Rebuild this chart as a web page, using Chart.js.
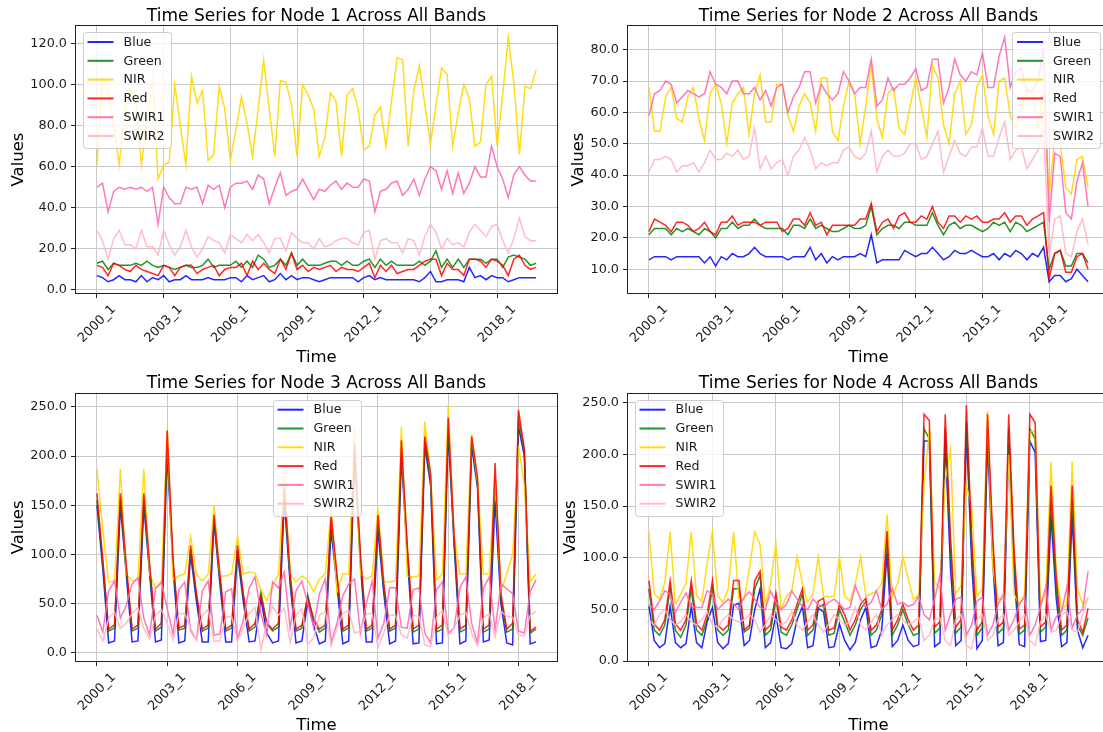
<!DOCTYPE html>
<html>
<head>
<meta charset="utf-8">
<title>Time Series per Node</title>
<script src="https://cdn.jsdelivr.net/npm/chart.js@4.4.1/dist/chart.umd.min.js"></script>
<style>
  html, body { margin: 0; padding: 0; background: #fff; overflow: hidden; }
  #fig { position: relative; width: 1103px; height: 732px; overflow: hidden; background: #fff; }
  #fig canvas { position: absolute; }
</style>
</head>
<body>
<div id="fig">
  <canvas id="node1"></canvas>
  <canvas id="node2"></canvas>
  <canvas id="node3"></canvas>
  <canvas id="node4"></canvas>
</div>
<script>
"use strict";

const BANDS = ["Blue", "Green", "NIR", "Red", "SWIR1", "SWIR2"];

// tick values per panel
const yTicksNode1 = [0, 20, 40, 60, 80, 100, 120];
const yTicksNode2 = [10, 20, 30, 40, 50, 60, 70, 80];
const yTicksNode3 = [0, 50, 100, 150, 200, 250];
const yTicksNode4 = [0, 50, 100, 150, 200, 250];
const xTickIndex = [0, 12, 24, 36, 48, 60, 72];

// ---- Node 1 (2000_1 .. 2019_4) ----
const node1Blue = [
  7, 6, 4, 5, 7, 5, 5, 4, 7, 4,
  6, 5, 7, 4, 5, 5, 7, 5, 5, 5,
  6, 5, 5, 5, 6, 6, 4, 7, 5, 6,
  7, 4, 5, 8, 5, 7, 5, 6, 6, 5,
  4, 5, 6, 6, 6, 6, 6, 4, 6, 7,
  5, 6, 5, 5, 5, 5, 5, 5, 4, 6,
  9, 4, 4, 5, 5, 5, 4, 11, 6, 7,
  5, 7, 6, 6, 4, 5, 6, 6, 6, 6,
];
const node1Green = [
  13, 14, 10, 13, 12, 12, 12, 13, 12, 14,
  12, 11, 12, 11, 10, 11, 12, 11, 11, 12,
  15, 11, 12, 12, 12, 14, 11, 14, 11, 17,
  15, 11, 12, 15, 12, 18, 12, 15, 12, 12,
  12, 13, 14, 14, 12, 14, 12, 12, 14, 15,
  11, 15, 12, 14, 12, 12, 12, 12, 14, 12,
  14, 19, 11, 15, 11, 15, 11, 15, 15, 15,
  13, 15, 15, 11, 16, 17, 16, 15, 12, 13,
];
const node1NIR = [
  61, 103, 97, 80, 61, 88, 98, 92, 61, 83,
  105, 54, 61, 62, 100, 80, 61, 104, 91, 97,
  63, 66, 99, 88, 63, 78, 94, 81, 65, 88,
  112, 88, 65, 102, 101, 90, 65, 100, 95, 88,
  65, 74, 96, 92, 65, 95, 98, 88, 68, 70,
  85, 89, 70, 92, 113, 112, 70, 97, 109, 90,
  71, 90, 108, 105, 70, 86, 100, 93, 70, 72,
  100, 104, 70, 95, 123, 101, 66, 99, 98, 107,
];
const node1Red = [
  12, 11, 7, 13, 12, 10, 9, 12, 10, 9,
  8, 7, 12, 11, 7, 11, 12, 12, 8, 10,
  11, 12, 7, 10, 11, 11, 13, 7, 14, 10,
  13, 10, 8, 15, 10, 18, 10, 12, 9, 11,
  10, 11, 12, 9, 11, 10, 10, 9, 11, 13,
  6, 12, 9, 12, 8, 9, 10, 10, 12, 14,
  15, 15, 7, 13, 10, 10, 7, 15, 15, 14,
  11, 15, 14, 12, 7, 15, 17, 12, 10, 11,
];
const node1SWIR1 = [
  50, 52, 38, 48, 50, 49, 50, 49, 50, 48,
  50, 32, 50, 45, 42, 42, 50, 49, 50, 42,
  51, 49, 51, 40, 50, 52, 52, 53, 49, 56,
  54, 42, 50, 57, 46, 48, 49, 54, 49, 44,
  49, 48, 51, 53, 49, 52, 50, 50, 54, 53,
  38, 48, 49, 52, 53, 46, 49, 54, 46, 54,
  60, 58, 49, 58, 47, 57, 47, 52, 60, 55,
  55, 70, 60, 54, 45, 56, 60, 56, 53, 53,
];
const node1SWIR2 = [
  29, 24, 15, 25, 29, 22, 22, 20, 29, 21,
  21, 17, 29, 22, 17, 21, 29, 21, 16, 20,
  26, 24, 23, 18, 27, 25, 23, 27, 24, 27,
  23, 18, 25, 25, 19, 28, 25, 23, 23, 20,
  25, 21, 22, 24, 25, 25, 23, 22, 28, 29,
  15, 24, 25, 23, 23, 18, 25, 24, 17, 26,
  32, 28, 20, 25, 22, 23, 21, 28, 32, 29,
  26, 31, 32, 24, 18, 25, 35, 26, 24, 24,
];

// ---- Node 2 (2000_1 .. 2019_4) ----
const node2Blue = [
  13, 14, 14, 14, 13, 14, 14, 14, 14, 14,
  12, 14, 11, 14, 13, 15, 14, 14, 15, 17,
  15, 14, 14, 14, 14, 13, 14, 14, 14, 17,
  13, 15, 12, 14, 13, 14, 14, 14, 15, 14,
  21, 12, 13, 13, 13, 13, 16, 15, 14, 15,
  15, 17, 15, 13, 14, 16, 15, 15, 16, 15,
  14, 14, 15, 13, 15, 14, 16, 15, 13, 15,
  14, 17, 6, 8, 8, 6, 7, 10, 8, 6,
];
const node2Green = [
  21, 23, 23, 23, 21, 23, 22, 23, 22, 21,
  23, 22, 20, 23, 23, 25, 23, 24, 24, 26,
  24, 23, 23, 23, 23, 21, 24, 24, 23, 26,
  23, 24, 23, 22, 22, 23, 24, 23, 23, 24,
  30, 21, 23, 24, 24, 23, 25, 25, 24, 24,
  24, 28, 24, 21, 24, 25, 23, 24, 24, 23,
  22, 23, 25, 24, 25, 22, 25, 24, 22, 23,
  24, 25, 10, 15, 16, 11, 11, 15, 15, 12,
];
const node2NIR = [
  68, 54, 54, 65, 68, 58, 57, 65, 68, 58,
  51, 66, 69, 63, 50, 63, 66, 68, 53, 66,
  72, 57, 57, 69, 69, 59, 54, 62, 66, 63,
  54, 71, 71, 54, 51, 62, 70, 66, 50, 62,
  75, 58, 52, 66, 68, 55, 53, 62, 71, 62,
  52, 75, 71, 56, 50, 66, 70, 53, 56, 68,
  72, 59, 53, 70, 71, 59, 55, 62, 67, 66,
  55, 67, 33, 52, 50, 36, 34, 45, 46, 36,
];
const node2Red = [
  22, 26, 25, 24, 22, 25, 25, 24, 22, 23,
  25, 22, 21, 25, 25, 27, 24, 25, 25, 25,
  24, 25, 25, 25, 22, 23, 26, 26, 24, 28,
  24, 25, 21, 24, 24, 24, 24, 24, 26, 26,
  31, 22, 25, 26, 23, 27, 28, 25, 25, 27,
  26, 30, 25, 23, 27, 27, 25, 27, 26, 27,
  25, 25, 26, 26, 28, 25, 27, 27, 24, 26,
  27, 28, 7, 15, 16, 9, 9, 14, 15, 10,
];
const node2SWIR1 = [
  59, 66, 67, 70, 69, 63, 65, 67, 66, 65,
  66, 73, 69, 68, 66, 70, 70, 66, 66, 68,
  64, 67, 62, 68, 69, 60, 65, 68, 73, 73,
  63, 69, 66, 64, 66, 73, 70, 66, 68, 68,
  77, 62, 64, 71, 67, 69, 69, 71, 74, 67,
  68, 77, 77, 63, 68, 77, 72, 70, 73, 72,
  79, 68, 68, 78, 84, 68, 73, 74, 67, 67,
  70, 81, 25, 47, 46, 28, 26, 38, 44, 30,
];
const node2SWIR2 = [
  41, 45, 45, 46, 45, 41, 43, 43, 44, 41,
  44, 48, 45, 45, 47, 46, 48, 45, 46, 55,
  42, 46, 42, 44, 45, 40, 46, 48, 52, 48,
  42, 44, 43, 44, 44, 48, 49, 46, 45, 47,
  54, 41, 46, 48, 46, 46, 47, 50, 50, 45,
  46, 50, 54, 41, 46, 51, 47, 46, 49, 49,
  55, 46, 46, 52, 57, 45, 48, 49, 42, 45,
  48, 56, 14, 26, 27, 15, 14, 22, 26, 18,
];

// ---- Node 3 (2000_1 .. 2018_4), one row per year ----
const node3Blue = [
  150, 85, 10, 12,  150, 80, 11, 12,  150, 80, 11, 13,  205, 85, 10, 12,
  100, 52, 11, 11,  133, 70, 11, 11,  100, 52, 11, 12,  55, 20, 10, 12,
  155, 70, 10, 12,  52, 28, 9, 12,  125, 68, 9, 12,  200, 90, 11, 11,
  125, 60, 9, 12,  199, 100, 9, 10,  210, 170, 9, 10,  225, 110, 9, 12,
  210, 168, 11, 13,  155, 50, 10, 8,  230, 200, 9, 11,
];
const node3Green = [
  155, 90, 22, 25,  157, 85, 22, 25,  155, 85, 22, 26,  210, 90, 23, 25,
  105, 57, 22, 25,  136, 75, 22, 25,  105, 57, 22, 26,  62, 30, 22, 26,
  160, 75, 22, 25,  59, 33, 21, 25,  135, 75, 22, 25,  205, 95, 22, 25,
  133, 65, 22, 25,  207, 105, 21, 24,  215, 175, 21, 24,  232, 115, 21, 24,
  215, 172, 21, 24,  180, 55, 21, 24,  238, 205, 20, 24,
];
const node3NIR = [
  187, 125, 72, 73,  187, 80, 73, 75,  187, 80, 66, 70,  228, 74, 78, 80,
  118, 80, 73, 80,  150, 78, 78, 80,  118, 80, 82, 81,  64, 53, 68, 80,
  182, 80, 72, 78,  74, 62, 75, 80,  147, 62, 80, 80,  229, 80, 75, 78,
  147, 72, 72, 73,  230, 78, 77, 78,  235, 180, 74, 80,  252, 120, 80, 80,
  222, 175, 80, 80,  182, 62, 80, 100,  211, 170, 72, 80,
];
const node3Red = [
  162, 95, 24, 28,  162, 90, 24, 28,  162, 90, 24, 30,  226, 95, 25, 28,
  109, 60, 24, 28,  140, 80, 24, 28,  109, 60, 24, 30,  57, 30, 24, 30,
  168, 80, 24, 28,  55, 35, 24, 28,  140, 80, 24, 28,  212, 100, 24, 28,
  140, 70, 24, 28,  216, 110, 24, 28,  220, 182, 24, 28,  239, 120, 24, 28,
  220, 179, 24, 28,  193, 60, 24, 30,  247, 207, 22, 26,
];
const node3SWIR1 = [
  38, 21, 63, 73,  35, 48, 70, 76,  35, 18, 65, 72,  45, 19, 64, 72,
  22, 13, 63, 73,  18, 19, 62, 65,  14, 33, 66, 77,  40, 18, 72, 66,
  82, 25, 63, 73,  50, 26, 60, 75,  10, 30, 58, 70,  75, 20, 50, 73,
  15, 30, 66, 66,  26, 25, 64, 66,  20, 10, 64, 72,  20, 25, 66, 77,
  30, 10, 65, 77,  23, 70, 65, 60,  22, 20, 62, 74,
];
const node3SWIR2 = [
  24, 12, 35, 41,  25, 30, 40, 46,  25, 14, 38, 44,  30, 13, 40, 40,
  25, 13, 38, 44,  12, 12, 36, 37,  12, 25, 40, 46,  3, 30, 47, 38,
  45, 10, 38, 45,  8, 15, 38, 42,  7, 25, 40, 43,  20, 22, 39, 40,
  5, 20, 38, 38,  18, 15, 38, 37,  8, 6, 36, 43,  17, 25, 38, 41,
  20, 7, 35, 40,  16, 42, 37, 36,  18, 17, 38, 42,
];

// ---- Node 4 (2000_1 .. 2020_4), one row per year ----
const node4Blue = [
  53, 20, 13, 17,  53, 18, 13, 17,  53, 18, 13, 38,  52, 18, 12, 17,
  54, 56, 15, 20,  50, 70, 13, 18,  45, 13, 12, 17,  40, 53, 13, 15,
  51, 48, 13, 14,  36, 20, 11, 18,  40, 52, 13, 15,  30, 105, 14, 20,
  35, 20, 14, 16,  213, 213, 14, 18,  215, 90, 15, 20,  225, 95, 12, 20,
  212, 95, 15, 18,  210, 85, 16, 14,  213, 202, 19, 20,  140, 60, 14, 18,
  140, 30, 13, 25,
];
const node4Green = [
  70, 30, 25, 35,  70, 30, 23, 35,  70, 30, 25, 40,  70, 30, 25, 30,
  70, 70, 28, 32,  70, 83, 25, 30,  60, 28, 25, 35,  50, 65, 25, 30,
  52, 55, 25, 27,  50, 38, 25, 35,  50, 58, 25, 30,  45, 118, 25, 35,
  50, 35, 25, 27,  225, 215, 27, 32,  225, 110, 27, 33,  232, 110, 25, 32,
  225, 110, 27, 32,  225, 100, 26, 30,  225, 215, 28, 33,  155, 70, 25, 30,
  155, 35, 25, 42,
];
const node4NIR = [
  125, 65, 60, 76,  125, 55, 65, 75,  125, 63, 58, 95,  125, 63, 57, 70,
  125, 60, 60, 90,  125, 113, 55, 75,  113, 50, 63, 68,  101, 75, 57, 65,
  101, 63, 62, 63,  101, 63, 58, 75,  101, 63, 65, 68,  75, 142, 62, 75,
  101, 80, 60, 64,  170, 225, 77, 70,  175, 205, 65, 73,  170, 150, 63, 70,
  242, 90, 60, 60,  200, 65, 55, 65,  222, 223, 55, 65,  193, 85, 50, 55,
  193, 70, 55, 60,
];
const node4Red = [
  78, 36, 30, 40,  78, 36, 30, 40,  78, 36, 30, 45,  78, 35, 30, 35,
  78, 78, 30, 35,  78, 87, 30, 35,  66, 33, 30, 40,  55, 70, 30, 35,
  58, 61, 30, 32,  55, 45, 30, 40,  55, 61, 30, 35,  50, 126, 30, 40,
  55, 40, 30, 35,  239, 233, 33, 38,  239, 120, 33, 40,  248, 120, 30, 38,
  239, 120, 33, 38,  239, 110, 31, 35,  239, 231, 33, 38,  170, 80, 30, 35,
  170, 40, 28, 51,
];
const node4SWIR1 = [
  55, 50, 58, 68,  65, 47, 57, 66,  53, 52, 52, 68,  65, 50, 55, 60,
  55, 50, 62, 67,  60, 52, 50, 68,  57, 50, 55, 68,  60, 53, 50, 60,
  55, 52, 57, 60,  55, 50, 52, 73,  60, 52, 57, 68,  50, 55, 70, 55,
  57, 53, 55, 63,  45, 40, 60, 83,  30, 45, 60, 62,  25, 35, 58, 62,
  25, 35, 55, 65,  30, 40, 55, 62,  25, 35, 52, 72,  30, 43, 48, 72,
  32, 45, 50, 87,
];
const node4SWIR2 = [
  40, 35, 45, 50,  40, 35, 38, 45,  38, 35, 40, 48,  35, 33, 40, 45,
  40, 38, 40, 45,  40, 28, 35, 45,  40, 35, 38, 48,  35, 30, 38, 45,
  35, 28, 36, 45,  40, 35, 38, 52,  35, 30, 38, 45,  25, 35, 40, 45,
  40, 35, 38, 42,  20, 25, 40, 42,  20, 15, 40, 45,  15, 12, 40, 45,
  20, 25, 40, 45,  25, 30, 38, 45,  20, 15, 38, 45,  28, 30, 45, 48,
  30, 28, 45, 62,
];

const BAND_COLORS = {
  Blue: "rgba(0, 0, 255, 0.85)",
  Green: "rgba(0, 128, 0, 0.85)",
  NIR: "rgba(255, 215, 0, 0.9)",
  Red: "rgba(255, 0, 0, 0.85)",
  SWIR1: "rgba(255, 105, 180, 0.9)",
  SWIR2: "rgba(255, 182, 193, 0.9)",
};

const FONT = '"DejaVu Sans", "Liberation Sans", sans-serif';
const TICK_PX = 12.8;
const LEGEND_PX = 12.6;
const TITLE_PX = 17;
const LABEL_PX = 16.5;
const GRID = "#c9c9c9";
const INK = "#1a1a1a";

const PANELS = [
  {
    canvas: "node1", title: "Time Series for Node 1 Across All Bands",
    x: 0, y: 0, w: 562, h: 366,
    area: { left: 75, top: 25, right: 558, bottom: 294 },
    yTicks: yTicksNode1, legend: "upper left",
    series: [node1Blue, node1Green, node1NIR, node1Red, node1SWIR1, node1SWIR2],
  },
  {
    canvas: "node2", title: "Time Series for Node 2 Across All Bands",
    x: 560, y: 0, w: 556, h: 366,
    area: { left: 67, top: 25, right: 550, bottom: 294 },
    yTicks: yTicksNode2, legend: "upper right",
    series: [node2Blue, node2Green, node2NIR, node2Red, node2SWIR1, node2SWIR2],
  },
  {
    canvas: "node3", title: "Time Series for Node 3 Across All Bands",
    x: 0, y: 366, w: 562, h: 366,
    area: { left: 75, top: 26.7, right: 558, bottom: 296 },
    yTicks: yTicksNode3, legend: "upper center",
    series: [node3Blue, node3Green, node3NIR, node3Red, node3SWIR1, node3SWIR2],
  },
  {
    canvas: "node4", title: "Time Series for Node 4 Across All Bands",
    x: 560, y: 366, w: 556, h: 366,
    area: { left: 67, top: 26.7, right: 550, bottom: 296 },
    yTicks: yTicksNode4, legend: "upper left",
    series: [node4Blue, node4Green, node4NIR, node4Red, node4SWIR1, node4SWIR2],
  },
];

function quarterLabels(startYear, count) {
  const out = [];
  for (let i = 0; i < count; i++) {
    out.push(`${startYear + Math.floor(i / 4)}_${(i % 4) + 1}`);
  }
  return out;
}

// frame, title, axis labels, rotated x tick labels and the in-axes legend
const axesDecor = {
  id: "axesDecor",
  afterDraw(chart, args, opts) {
    const { ctx, chartArea: a, scales } = chart;
    ctx.save();

    ctx.strokeStyle = "#222";
    ctx.lineWidth = 1;
    const l = Math.round(a.left) + 0.5, t = Math.round(a.top) + 0.5;
    const r = Math.round(a.right) - 0.5, b = Math.round(a.bottom) - 0.5;
    ctx.strokeRect(l, t, r - l, b - t);

    // x tick labels, rotated 45deg, box centred under each tick
    ctx.font = `${TICK_PX}px ${FONT}`;
    ctx.fillStyle = INK;
    ctx.textAlign = "center";
    ctx.textBaseline = "middle";
    let boxH = 0;
    for (const tick of scales.x.ticks) {
      const text = opts.labels[tick.value];
      const w = ctx.measureText(text).width;
      const box = (w + TICK_PX * 1.17) * Math.SQRT1_2;
      boxH = Math.max(boxH, box);
      const px = scales.x.getPixelForValue(tick.value);
      ctx.save();
      ctx.translate(px, a.bottom + 8 + box / 2);
      ctx.rotate(-Math.PI / 4);
      ctx.fillText(text, 0, 0);
      ctx.restore();
    }

    // widest y tick label decides where "Values" goes
    const tickW = Math.max(...scales.y.ticks.map((tk) => ctx.measureText(tk.value.toFixed(1)).width));

    ctx.fillStyle = "#000";
    ctx.font = `${TITLE_PX}px ${FONT}`;
    ctx.textBaseline = "alphabetic";
    ctx.fillText(opts.title, (a.left + a.right) / 2, a.top - 4.5);

    ctx.font = `${LABEL_PX}px ${FONT}`;
    ctx.textBaseline = "middle";
    ctx.fillText("Time", (a.left + a.right) / 2, a.bottom + 8 + boxH + 12);
    ctx.save();
    ctx.translate(a.left - 8 - tickW - 11.5, (a.top + a.bottom) / 2);
    ctx.rotate(-Math.PI / 2);
    ctx.fillText("Values", 0, 0);
    ctx.restore();

    drawLegend(chart, opts.legend);
    ctx.restore();
  },
};

function drawLegend(chart, loc) {
  const { ctx, chartArea: a } = chart;
  const sets = chart.data.datasets;
  ctx.font = `${LEGEND_PX}px ${FONT}`;
  const textW = Math.max(...sets.map((d) => ctx.measureText(d.label).width));
  const pad = 5, handle = 26, gap = 10, pitch = 18.8;
  const bw = pad + handle + gap + textW + pad + 1;
  const bh = pitch * sets.length + 3;
  let bx = a.left + 7.5;
  if (loc === "upper right") bx = a.right - 10 - bw;
  if (loc === "upper center") bx = (a.left + a.right) / 2 - bw / 2;
  const by = a.top + 7;

  ctx.beginPath();
  ctx.roundRect(Math.round(bx) + 0.5, Math.round(by) + 0.5, Math.round(bw), Math.round(bh), 3);
  ctx.fillStyle = "rgba(255, 255, 255, 0.8)";
  ctx.fill();
  ctx.strokeStyle = "#cccccc";
  ctx.lineWidth = 1;
  ctx.stroke();

  ctx.textAlign = "left";
  ctx.textBaseline = "middle";
  sets.forEach((d, i) => {
    const cy = by + 10 + i * pitch;
    ctx.beginPath();
    ctx.moveTo(bx + pad, cy);
    ctx.lineTo(bx + pad + handle, cy);
    ctx.strokeStyle = d.borderColor;
    ctx.lineWidth = 2;
    ctx.stroke();
    ctx.fillStyle = INK;
    ctx.fillText(d.label, bx + pad + handle + gap, cy + 0.5);
  });
}

function buildPanel(p) {
  const canvas = document.getElementById(p.canvas);
  canvas.width = p.w;
  canvas.height = p.h;
  canvas.style.left = p.x + "px";
  canvas.style.top = p.y + "px";

  const n = p.series[0].length;
  const labels = quarterLabels(2000, n);
  const all = p.series.flat();
  const lo = Math.min(...all), hi = Math.max(...all);
  const yPad = (hi - lo) * 0.05;
  const xPad = (n - 1) * 0.05;

  const datasets = p.series.map((values, i) => ({
    label: BANDS[i],
    data: values.map((v, k) => ({ x: k, y: v })),
    borderColor: BAND_COLORS[BANDS[i]],
    borderWidth: 1.5,
    pointRadius: 0,
    tension: 0,
    fill: false,
    order: BANDS.length - i,
  }));

  const grid = { color: GRID, lineWidth: 1, tickLength: 4, tickColor: "#222", tickWidth: 1 };

  return new Chart(canvas, {
    type: "line",
    data: { datasets },
    options: {
      responsive: false,
      animation: false,
      devicePixelRatio: 1,
      layout: { padding: { top: p.area.top, right: p.w - p.area.right, left: 0, bottom: 0 } },
      scales: {
        x: {
          type: "linear",
          min: -xPad,
          max: n - 1 + xPad,
          bounds: "data",
          afterBuildTicks: (s) => { s.ticks = xTickIndex.filter((v) => v < n).map((v) => ({ value: v })); },
          afterFit: (s) => { s.height = p.h - p.area.bottom; },
          ticks: { display: false },
          grid,
          border: { display: false },
        },
        y: {
          min: lo - yPad,
          max: hi + yPad,
          bounds: "data",
          afterBuildTicks: (s) => { s.ticks = p.yTicks.map((v) => ({ value: v })); },
          afterFit: (s) => { s.width = p.area.left; },
          ticks: {
            font: { family: FONT, size: TICK_PX },
            color: INK,
            padding: 4,
            callback: (v) => Number(v).toFixed(1),
          },
          grid,
          border: { display: false },
        },
      },
      plugins: {
        legend: { display: false },
        tooltip: { enabled: false },
        axesDecor: { title: p.title, labels, legend: p.legend },
      },
    },
    plugins: [axesDecor],
  });
}

Chart.defaults.font.family = FONT;
PANELS.forEach(buildPanel);
</script>
</body>
</html>
